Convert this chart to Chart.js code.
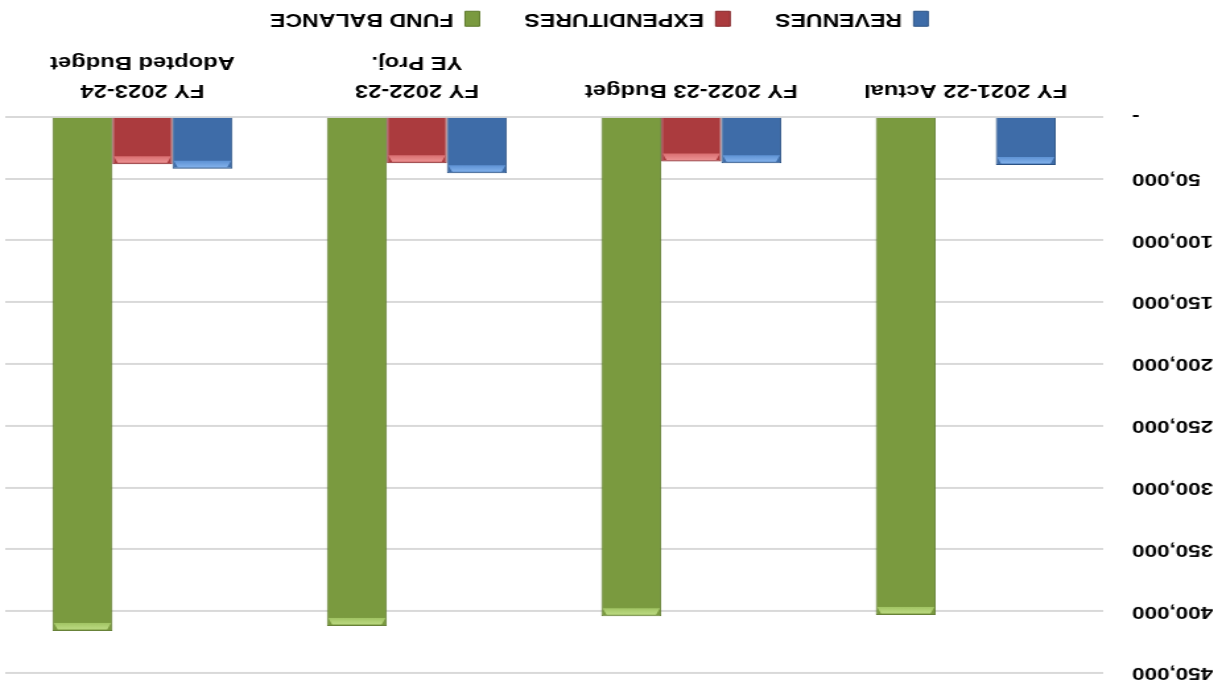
<!DOCTYPE html>
<html>
<head>
<meta charset="utf-8">
<script src="https://cdn.jsdelivr.net/npm/chart.js@4"></script>
<style>
html,body{margin:0;padding:0;background:#fff;overflow:hidden;width:1230px;height:691px;}
#wrap{position:absolute;left:0;top:0;width:932px;height:691px;transform-origin:0 0;transform:matrix(-1.319742,0,0,-1,1230,691);}
canvas{display:block;}
</style>
</head>
<body>
<div id="wrap"><canvas id="c" width="932" height="691" style="width:932px;height:691px"></canvas></div>
<script>
// ---- data ----
const categories = [
  ['FY 2021-22 Actual'],
  ['FY 2022-23 Budget'],
  ['FY 2022-23', 'YE Proj.'],
  ['FY 2023-24', 'Adopted Budget']
];
const seriesNames = ['REVENUES', 'EXPENDITURES', 'FUND BALANCE'];
const revenues = [39000, 37600, 45800, 42200];
const expenditures = [0, 36200, 37600, 38400];
const fundBalance = [403000, 404000, 412000, 416000];
const yTickValues = [0, 50000, 100000, 150000, 200000, 250000, 300000, 350000, 400000, 450000];
const yTickLabels = ['-', '50,000', '100,000', '150,000', '200,000', '250,000', '300,000', '350,000', '400,000', '450,000'];

// ---- bevel look at bar ends ----
const bevelPlugin = {
  id: 'bevel',
  afterDatasetsDraw(chart) {
    const ctx = chart.ctx;
    chart.data.datasets.forEach((ds, i) => {
      const meta = chart.getDatasetMeta(i);
      if (meta.hidden) return;
      meta.data.forEach(el => {
        const p = el.getProps(['x', 'y', 'base', 'width'], true);
        const h = p.base - p.y;
        if (h < 3) return;
        const l = p.x - p.width / 2, r = p.x + p.width / 2;
        const bh = Math.min(8, h / 2), b = 4;
        ctx.save();
        const g = ctx.createLinearGradient(0, p.y, 0, p.y + bh);
        g.addColorStop(0, ds.bevelLight);
        g.addColorStop(1, ds.bevelMid);
        ctx.fillStyle = g;
        ctx.beginPath();
        ctx.moveTo(l + b, p.y + 1.5);
        ctx.lineTo(r - b, p.y + 1.5);
        ctx.lineTo(r - 1, p.y + bh);
        ctx.lineTo(l + 1, p.y + bh);
        ctx.closePath();
        ctx.fill();
        ctx.restore();
      });
    });
  }
};

const noLabelClip = s => { s._computeLabelArea = () => undefined; };

Chart.defaults.font.family = "'Liberation Sans', Arial, sans-serif";
Chart.defaults.font.weight = 'bold';
Chart.defaults.color = '#000';

new Chart(document.getElementById('c'), {
  type: 'bar',
  data: {
    labels: categories,
    datasets: [
      { label: seriesNames[0], data: revenues, backgroundColor: '#3E6CA8', borderColor: '#2C5385', borderWidth: 1,
        bevelLight: '#8AB8F0', bevelMid: '#5E92D4' },
      { label: seriesNames[1], data: expenditures, backgroundColor: '#AB3B3E', borderColor: '#86292C', borderWidth: 1,
        bevelLight: '#F09A9A', bevelMid: '#D96E70' },
      { label: seriesNames[2], data: fundBalance, backgroundColor: '#7A9A3F', borderColor: '#5E7A2C', borderWidth: 1,
        bevelLight: '#C3E08A', bevelMid: '#A1C463' }
    ]
  },
  options: {
    responsive: false,
    animation: false,
    devicePixelRatio: 1,
    layout: { padding: { left: 28, right: 4, top: 18, bottom: 0 } },
    datasets: { bar: { categoryPercentage: 0.656, barPercentage: 1.0 } },
    plugins: {
      legend: {
        position: 'bottom',
        labels: { boxWidth: 11, boxHeight: 15, padding: 34, color: '#000', font: { size: 17.5, weight: 'bold' } }
      },
      tooltip: { enabled: false },
      title: { display: false }
    },
    scales: {
      x: {
        grid: { display: false, drawTicks: false },
        border: { display: false },
        ticks: { color: '#000', font: { size: 18, weight: 'bold', lineHeight: 1.55 }, padding: 13, maxRotation: 0, minRotation: 0, autoSkip: false },
        afterFit(s) { s.height = 55.2; },
        afterUpdate: noLabelClip
      },
      y: {
        min: yTickValues[0],
        max: yTickValues[yTickValues.length - 1],
        afterBuildTicks(s) { s.ticks = yTickValues.map(v => ({ value: v })); },
        ticks: {
          color: '#000',
          font: { size: 17, weight: 'bold' },
          padding: 22,
          callback(v) { const i = yTickValues.indexOf(v); return i >= 0 ? yTickLabels[i] : ''; }
        },
        grid: { color: '#D9D9D9', lineWidth: 2, drawTicks: false },
        border: { display: false },
        afterFit(s) { s.width = 68.2; s.paddingTop = 0; s.paddingBottom = 0; },
        afterUpdate: noLabelClip
      }
    }
  },
  plugins: [bevelPlugin]
});
</script>
</body>
</html>
